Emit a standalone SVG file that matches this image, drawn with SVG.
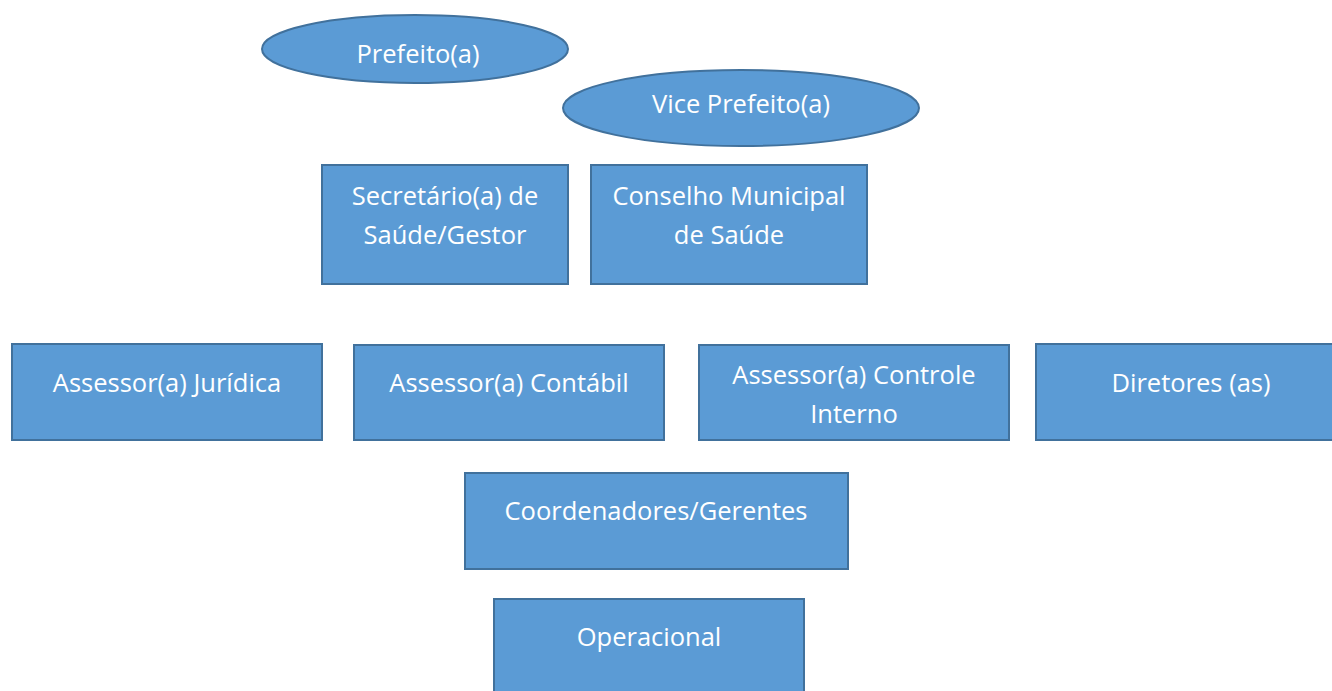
<svg xmlns="http://www.w3.org/2000/svg" width="1332" height="691" viewBox="0 0 1332 691">
<style>
.n{fill:#5B9BD5;stroke:#41719C;stroke-width:2}
.t{font-family:"Open Sans","Noto Sans",sans-serif;font-size:25.5px;fill:#fff;text-anchor:middle}
</style>
<rect width="1332" height="691" fill="#fff"/>
<g id="connectors"></g>
<g id="prefeito"><ellipse class="n" cx="415" cy="49" rx="153" ry="34"/><text class="t" x="418" y="63">Prefeito(a)</text></g>
<g id="vice"><ellipse class="n" cx="741" cy="108" rx="178" ry="38"/><text class="t" x="741" y="113">Vice Prefeito(a)</text></g>
<g id="secretario"><rect class="n" x="322" y="165" width="246" height="119"/><text class="t" x="445" y="205">Secretário(a) de</text><text class="t" x="445" y="244">Saúde/Gestor</text></g>
<g id="conselho"><rect class="n" x="591" y="165" width="276" height="119"/><text class="t" x="729" y="205">Conselho Municipal</text><text class="t" x="729" y="244">de Saúde</text></g>
<g id="juridica"><rect class="n" x="12" y="344" width="310" height="96"/><text class="t" x="167" y="392">Assessor(a) Jurídica</text></g>
<g id="contabil"><rect class="n" x="354" y="345" width="310" height="95"/><text class="t" x="509" y="392">Assessor(a) Contábil</text></g>
<g id="controle"><rect class="n" x="699" y="345" width="310" height="95"/><text class="t" x="854" y="384">Assessor(a) Controle</text><text class="t" x="854" y="423">Interno</text></g>
<g id="diretores"><rect class="n" x="1036" y="344" width="310" height="96"/><text class="t" x="1191" y="392">Diretores (as)</text></g>
<g id="coordenadores"><rect class="n" x="465" y="473" width="383" height="96"/><text class="t" x="656" y="520">Coordenadores/Gerentes</text></g>
<g id="operacional"><rect class="n" x="494" y="599" width="310" height="110"/><text class="t" x="649" y="646">Operacional</text></g>
</svg>
